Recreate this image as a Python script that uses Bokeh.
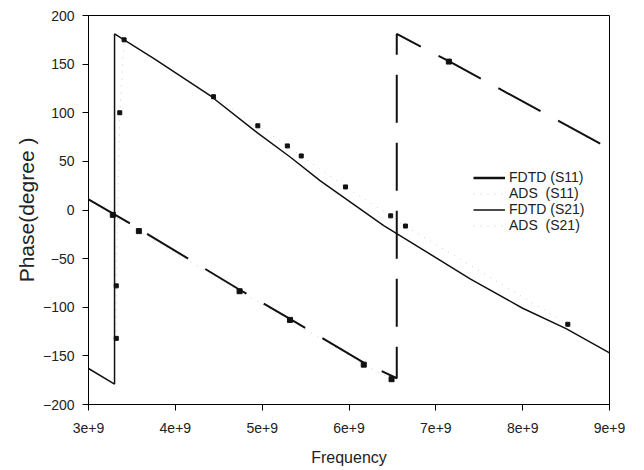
import math
from bokeh.plotting import figure
from bokeh.models import (Range1d, FixedTicker, CustomJSTickFormatter, Legend,
                          LegendItem)
from bokeh.embed import file_html
from bokeh.resources import INLINE

# ---- data (frequency in Hz, phase in degrees) ----
fdtd_s11_freq = [3.0e9, 3.48e9, 4.74e9, 5.32e9, 6.17e9, 6.55e9, 6.55e9, 7.15e9, 9.0e9]
fdtd_s11_phase = [11, -14, -82, -112, -157, -173, 181, 153, 63]

fdtd_s21_freq = [3.0e9, 3.3e9, 3.3e9, 3.75e9, 4.41e9, 4.95e9, 5.33e9, 5.67e9,
                 6.4e9, 7.4e9, 8.0e9, 8.5e9, 9.0e9]
fdtd_s21_phase = [-163, -179, 181, 156, 117, 79, 54, 30, -16, -71, -101, -122, -147]

ads_s11_freq = [3.28e9, 3.58e9, 4.74e9, 5.32e9, 6.17e9, 6.49e9, float("nan"), 7.15e9]
ads_s11_phase = [-5, -21.7, -83.5, -113, -159, -174, float("nan"), 152.6]

ads_s21_freq = [3.32e9, 3.32e9, 3.36e9, 3.41e9, 4.44e9, 4.95e9, 5.29e9, 5.45e9,
                5.96e9, 6.48e9, 6.65e9, 8.52e9]
ads_s21_phase = [-132, -78, 100, 175, 116.5, 86.6, 65.9, 55.6, 23.7, -6, -16.5, -117.5]

x_ticks = [3e9, 4e9, 5e9, 6e9, 7e9, 8e9, 9e9]
y_ticks = [-200, -150, -100, -50, 0, 50, 100, 150, 200]

legend_labels = ["FDTD (S11)", "ADS\u00a0 (S11)", "FDTD (S21)", "ADS\u00a0 (S21)"]

FONT = "Liberation Sans"
INK = "#111111"
FAINT = "#cccccc"

p = figure(width=644, height=470, output_backend="svg", toolbar_location=None,
           x_range=Range1d(3e9, 9e9), y_range=Range1d(-200, 200),
           min_border_left=88, min_border_right=35, min_border_top=15,
           min_border_bottom=66)
p.background_fill_color = "white"
p.border_fill_color = "white"
p.outline_line_color = "black"
p.outline_line_width = 1
p.xgrid.visible = False
p.ygrid.visible = False

p.xaxis.ticker = FixedTicker(ticks=x_ticks, minor_ticks=[])
p.yaxis.ticker = FixedTicker(ticks=y_ticks, minor_ticks=[])
p.xaxis.formatter = CustomJSTickFormatter(code='return (tick/1e9).toFixed(0) + "e+9";')
for ax in (p.xaxis, p.yaxis):
    ax.major_tick_out = 6
    ax.major_tick_in = 0
    ax.minor_tick_out = 0
    ax.minor_tick_in = 0
    ax.axis_line_color = "black"
    ax.major_tick_line_color = "black"
    ax.major_label_text_font = FONT
    ax.major_label_text_font_size = "14px"
    ax.major_label_text_color = "#222222"
    ax.axis_label_text_font = FONT
    ax.axis_label_text_font_style = "normal"
    ax.axis_label_text_color = "#222222"
p.xaxis.axis_label_text_font_size = "16px"
p.yaxis.axis_label_text_font_size = "21px"
p.xaxis.major_label_standoff = 12
p.yaxis.major_label_standoff = 8
p.xaxis.axis_label = "Frequency"
p.yaxis.axis_label = "Phase(degree )"
p.xaxis.axis_label_standoff = 13
p.yaxis.axis_label_standoff = 2

# ADS faint dotted lines
p.line(ads_s11_freq, ads_s11_phase, line_color=FAINT, line_width=1, line_dash="1 6")
p.line(ads_s21_freq, ads_s21_phase, line_color=FAINT, line_width=1, line_dash="1 6")

# FDTD curves
p.line(fdtd_s11_freq, fdtd_s11_phase, line_color=INK, line_width=2,
       line_dash="48 20")
p.line(fdtd_s21_freq, fdtd_s21_phase, line_color=INK, line_width=1.5)

# ADS markers
p.scatter(ads_s11_freq, ads_s11_phase, marker="square", size=5,
          fill_color=INK, line_color=INK)
p.scatter(ads_s21_freq, ads_s21_phase, marker="square", size=4,
          fill_color=INK, line_color=INK)

# legend-only renderers (single point lines: nothing drawn in the frame)
lg1 = p.line(fdtd_s11_freq[:1], fdtd_s11_phase[:1], line_color=INK, line_width=2.5)
lg2 = p.line(ads_s11_freq[:1], ads_s11_phase[:1], line_color=FAINT, line_width=1,
             line_dash="1 6")
lg3 = p.line(fdtd_s21_freq[:1], fdtd_s21_phase[:1], line_color=INK, line_width=1.5)
lg4 = p.line(ads_s21_freq[:1], ads_s21_phase[:1], line_color=FAINT, line_width=1,
             line_dash="1 6")

legend = Legend(items=[LegendItem(label=legend_labels[0], renderers=[lg1]),
                       LegendItem(label=legend_labels[1], renderers=[lg2]),
                       LegendItem(label=legend_labels[2], renderers=[lg3]),
                       LegendItem(label=legend_labels[3], renderers=[lg4])],
                location=(385, 171))
legend.border_line_color = None
legend.background_fill_alpha = 0
legend.padding = 0
legend.margin = 0
legend.spacing = 0
legend.glyph_width = 32
legend.glyph_height = 15
legend.label_height = 15
legend.label_standoff = 4
legend.label_text_font = FONT
legend.label_text_font_size = "14px"
legend.label_text_color = "#222222"
p.add_layout(legend, "center")

open("out.html", "w").write(file_html(p, INLINE))
